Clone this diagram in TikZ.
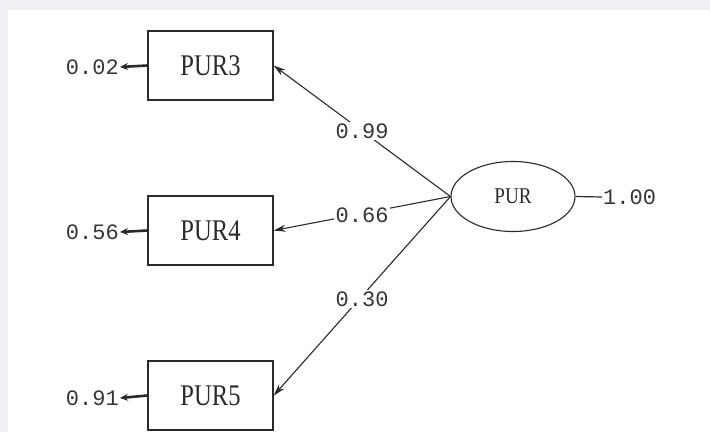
\documentclass[tikz,border=0pt]{standalone}
\usepackage{fontspec}
\usepackage{graphicx}
\setmainfont{Liberation Serif}
\setmonofont{Liberation Mono}
\usetikzlibrary{shapes.geometric,arrows.meta}

\definecolor{ink}{HTML}{2A2A2A}
\definecolor{numink}{HTML}{353535}
\definecolor{band}{HTML}{EEF0F4}

\tikzset{
  obsbox/.style={draw=ink, line width=1.4pt, minimum width=125pt, minimum height=69pt,
    inner sep=0pt, text=ink, font=\fontsize{30}{33}\selectfont},
  latent/.style={ellipse, draw=ink, line width=1.1pt, minimum width=124pt, minimum height=70pt,
    inner sep=0pt, text=ink, font=\fontsize{22.5}{25}\selectfont},
  num/.style={text=numink, inner sep=1pt, font=\fontsize{22}{24}\selectfont\ttfamily},
  coef/.style={num, fill=white, inner sep=2pt},
  path/.style={draw=ink, line width=1.1pt, -{Stealth[length=12pt,width=7pt]}},
  errpath/.style={draw=ink, line width=2.6pt, -{Stealth[length=8pt,width=7pt]}},
  plain/.style={draw=ink, line width=1.2pt},
}

\newcommand{\narrowtext}[2]{\scalebox{#1}[1]{#2}}

\begin{document}
\begin{tikzpicture}[x=1pt,y=-1pt]
  % page background with the light band along the top and left edges
  \fill[band] (0,0) rectangle (710,432);
  \fill[white] (8,10) rectangle (710,432);
  \useasboundingbox (0,0) rectangle (710,432);

  % observed indicators
  \node[obsbox] (p3) at (210.5,65.5) {\narrowtext{0.82}{PUR3}};
  \node[obsbox] (p4) at (210.5,230.5) {\narrowtext{0.82}{PUR4}};
  \node[obsbox] (p5) at (210.5,395.5) {\narrowtext{0.82}{PUR5}};

  % latent factor
  \node[latent] (pur) at (513,196.5) {\narrowtext{0.85}{PUR}};

  % error variances
  \node[num, anchor=east] (e3) at (120,67) {0.02};
  \node[num, anchor=east] (e4) at (120,232) {0.56};
  \node[num, anchor=east] (e5) at (120,398) {0.91};
  \draw[errpath] (p3.west) -- (e3.east);
  \draw[errpath] (p4.west) -- (e4.east);
  \draw[errpath] (p5.west) -- (e5.east);

  % factor variance
  \node[num, anchor=west] (v) at (602,197) {1.00};
  \draw[plain] (pur.east) -- (v.west);

  % loadings
  \draw[path] (pur.west) -- node[coef] {0.99} (p3.east);
  \draw[path] (pur.west) -- node[coef, yshift=-2pt] {0.66} (p4.east);
  \draw[path] (pur.west) -- node[coef, yshift=-3pt] {0.30} (p5.east);
\end{tikzpicture}
\end{document}
